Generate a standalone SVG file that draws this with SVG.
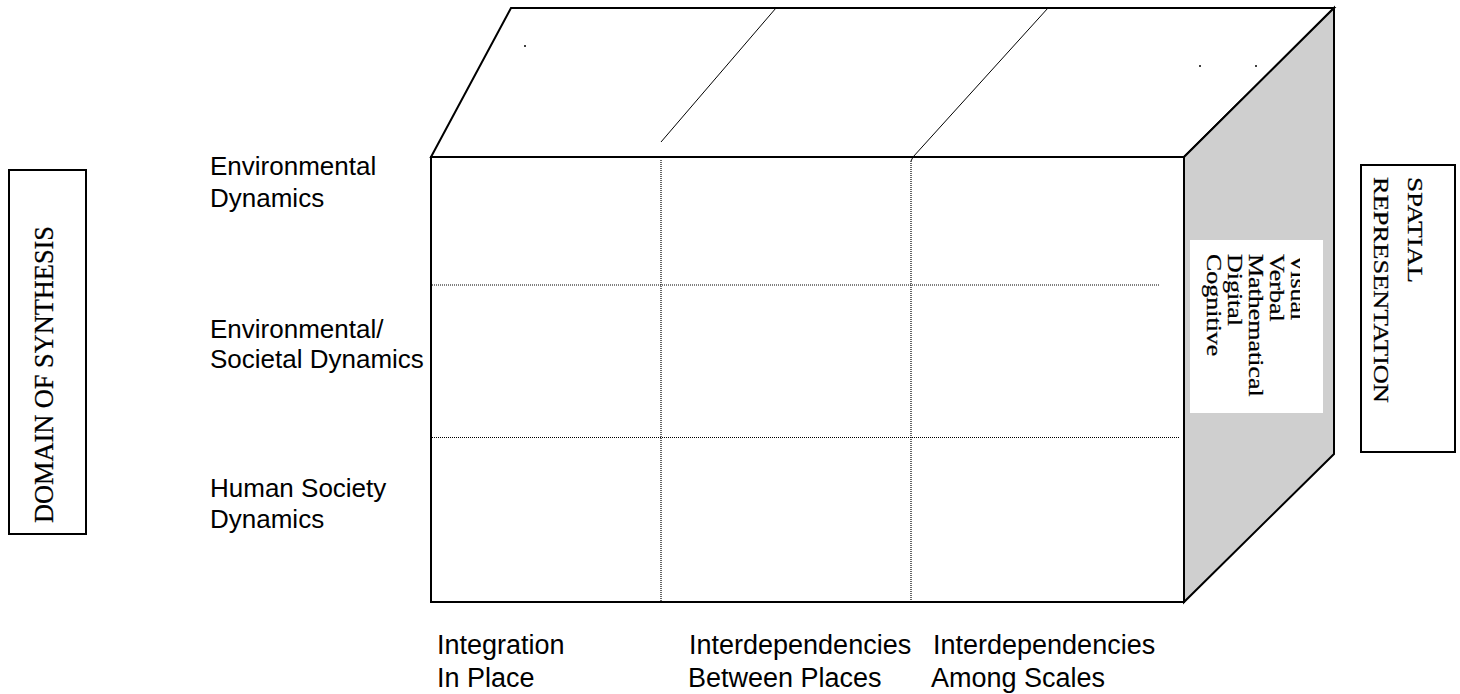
<svg xmlns="http://www.w3.org/2000/svg" width="1460" height="694" viewBox="0 0 1460 694">
  <defs>
    <style>
      .face { fill: #fff; stroke: #000; stroke-width: 2; }
      .side { fill: #cfcfcf; stroke: #000; stroke-width: 2; }
      .thin { fill: none; stroke: #000; stroke-width: 1; }
      .dot { fill: none; stroke: #000; stroke-width: 1.2; stroke-dasharray: 1 1; }
      .label { font-family: "Liberation Sans", Arial, sans-serif; font-size: 26px; fill: #000; }
      .col { font-size: 27px; }
      .serif { font-family: "Liberation Serif", "Times New Roman", serif; fill: #000; stroke: #000; stroke-width: 0.25; }
      .box { fill: #fff; stroke: #000; stroke-width: 2; }
    </style>
    <clipPath id="listClip">
      <rect x="1190" y="240" width="110" height="173"/>
    </clipPath>
  </defs>

  <rect width="1460" height="694" fill="#fff"/>

  <!-- cube -->
  <g id="cube">
    <polygon id="top-face" class="face" points="431,157 511,8 1334,8 1184,157"/>
    <polygon id="side-face" class="side" points="1184,157 1334,8 1334,454 1184,602"/>
    <rect id="front-face" class="face" x="431" y="157" width="753" height="445"/>
    <rect id="side-panel" x="1190" y="240" width="133" height="173" fill="#fff"/>
  </g>

  <!-- grid lines on the cube -->
  <g id="connectors">
    <line class="thin" x1="776" y1="8" x2="661" y2="142"/>
    <line class="thin" x1="1048" y1="8" x2="913" y2="157"/>
    <line class="thin" x1="913" y1="157" x2="911" y2="161"/>
    <line class="dot" x1="661" y1="160" x2="661" y2="602"/>
    <line class="dot" x1="911" y1="161" x2="911" y2="602"/>
    <line class="dot" x1="432" y1="285" x2="1160" y2="285"/>
    <line class="dot" x1="432" y1="437.5" x2="1180" y2="437.5"/>
    <circle cx="525" cy="46" r="1" fill="#000"/>
    <circle cx="1200" cy="66" r="1" fill="#000"/>
    <circle cx="1256" cy="66" r="1" fill="#000"/>
  </g>

  <!-- representation modes on the side face -->
  <g id="modes" clip-path="url(#listClip)">
    <g transform="translate(1291,254) rotate(90) scale(1.18,1)" class="serif" font-size="22">
      <text x="0" y="0">Visual</text>
      <text x="0" y="21">Verbal</text>
      <text x="0" y="42">Mathematical</text>
      <text x="0" y="63">Digital</text>
      <text x="0" y="84">Cognitive</text>
    </g>
  </g>

  <!-- row labels -->
  <g id="row-environmental">
    <text class="label" x="210" y="175">Environmental</text>
    <text class="label" x="210" y="207">Dynamics</text>
  </g>
  <g id="row-env-societal">
    <text class="label" x="210" y="338">Environmental/</text>
    <text class="label" x="210" y="368">Societal Dynamics</text>
  </g>
  <g id="row-human">
    <text class="label" x="210" y="497">Human Society</text>
    <text class="label" x="210" y="528">Dynamics</text>
  </g>

  <!-- column labels -->
  <g id="col-integration">
    <text class="label col" x="437" y="654">Integration</text>
    <text class="label col" x="437" y="687">In Place</text>
  </g>
  <g id="col-between">
    <text class="label col" x="689" y="654">Interdependencies</text>
    <text class="label col" x="688" y="687">Between Places</text>
  </g>
  <g id="col-among">
    <text class="label col" x="933" y="654">Interdependencies</text>
    <text class="label col" x="931" y="687">Among Scales</text>
  </g>

  <!-- axis boxes -->
  <g id="domain-of-synthesis">
    <rect class="box" x="9" y="170" width="77" height="364"/>
    <text class="serif" font-size="27" transform="translate(53,523) rotate(-90)" textLength="297" lengthAdjust="spacingAndGlyphs">DOMAIN OF SYNTHESIS</text>
  </g>
  <g id="spatial-representation">
    <rect class="box" x="1361" y="165" width="94" height="287"/>
    <text class="serif" font-size="22" transform="translate(1408,177) rotate(90)" textLength="106" lengthAdjust="spacingAndGlyphs">SPATIAL</text>
    <text class="serif" font-size="22" transform="translate(1374,177) rotate(90)" textLength="226" lengthAdjust="spacingAndGlyphs">REPRESENTATION</text>
  </g>
</svg>
